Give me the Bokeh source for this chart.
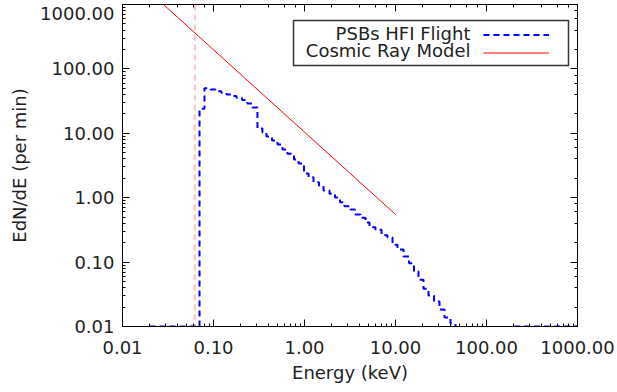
from bokeh.plotting import figure
from bokeh.models import (LogAxis, LogTicker, PrintfTickFormatter, Span, Label,
                          BoxAnnotation, Legend, LegendItem)
from bokeh.core.properties import value
from bokeh.embed import file_html
from bokeh.resources import INLINE

# ---- data ----
bin_edges_kev = [0.0198, 0.0702, 0.0796, 0.0927, 0.105, 0.122, 0.139, 0.158, 0.179,
                 0.206, 0.236, 0.268, 0.304, 0.345, 0.382, 0.439, 0.505, 0.573, 0.650,
                 0.767, 0.859, 0.987, 1.107, 1.256, 1.443, 1.618, 1.883, 2.164, 2.455,
                 2.752, 3.203, 3.588, 4.125, 4.682, 5.18, 6.03, 7.02, 8.17, 9.27,
                 10.52, 12.24, 14.08, 15.97, 17.89, 20.31, 23.05, 26.49, 30.45, 34.55,
                 40.22, 45.63, 193.1, 1000.0]
flight_rate = [0.01, 24.0, 50.1, 47.9, 45.1, 42.6, 40.0, 37.9, 35.6, 32.9, 29.0, 25.2,
               11.9, 10.3, 8.92, 7.73, 6.70, 5.60, 4.80, 3.92, 3.40, 2.38, 2.08, 1.74,
               1.55, 1.29, 1.15, 1.01, 0.851, 0.738, 0.656, 0.548, 0.487, 0.412, 0.348,
               0.317, 0.262, 0.241, 0.186, 0.157, 0.122, 0.0961, 0.0722, 0.0531, 0.0385,
               0.0303, 0.0244, 0.0184, 0.0138, 0.0111, 0.001, 0.01]
model_energy_kev = [0.02, 10.0]
model_rate = [1550.0, 0.55]
threshold_kev = 0.0624
legend_labels = ["PSBs HFI Flight", "Cosmic Ray Model"]
x_title = "Energy (keV)"
y_title = "EdN/dE (per min)"
top_tick_label = "1000.00"

FONT = "DejaVu Sans"
TXT = "#222222"
W, H = 617, 392
ML, MR, MT, MB = 122, 40, 4, 66
FH = H - MT - MB  # frame height in px

p = figure(width=W, height=H, x_axis_type="log", y_axis_type="log",
           x_range=(0.01, 1000), y_range=(0.01, 1000),
           output_backend="svg", toolbar_location=None,
           min_border_left=ML, min_border_right=MR, min_border_top=MT,
           min_border_bottom=MB)
p.xgrid.visible = False
p.ygrid.visible = False
p.outline_line_color = None
p.background_fill_color = "white"
p.border_fill_color = "white"


def style_axis(ax):
    ax.major_tick_in = 7
    ax.major_tick_out = 0
    ax.minor_tick_in = 3
    ax.minor_tick_out = 0
    ax.axis_line_color = "black"
    ax.axis_line_width = 1
    ax.major_tick_line_color = "black"
    ax.minor_tick_line_color = "black"
    ax.major_label_text_font = FONT
    ax.major_label_text_font_size = "18px"
    ax.major_label_text_color = TXT
    ax.axis_label_text_font = FONT
    ax.axis_label_text_font_size = "18px"
    ax.axis_label_text_font_style = "normal"
    ax.axis_label_text_color = TXT


for ax in (p.xaxis[0], p.yaxis[0]):
    style_axis(ax)
    ax.formatter = PrintfTickFormatter(format="%.2f")

p.xaxis[0].axis_label = x_title
p.xaxis[0].major_label_standoff = 14
p.xaxis[0].axis_label_standoff = 5
p.yaxis[0].axis_label = y_title
p.yaxis[0].major_label_standoff = 8
p.yaxis[0].axis_label_standoff = 7
# the top label sits a little below its tick (as in the reference) so it is not cut
p.yaxis[0].major_label_overrides = {1000: "\n" + top_tick_label}
p.yaxis[0].major_label_text_line_height = 0.1

for side in ("above", "right"):
    ax = LogAxis(ticker=LogTicker(), formatter=PrintfTickFormatter(format=""))
    style_axis(ax)
    ax.major_label_text_font_size = "0px"
    ax.major_label_standoff = 0
    p.add_layout(ax, side)

# threshold marker
p.add_layout(Span(location=threshold_kev, dimension="height", line_color="#FFC0CB",
                  line_width=2, line_dash="6 4", level="underlay"))

r_blue = p.step(x=bin_edges_kev, y=flight_rate + [flight_rate[-1]], mode="after",
                line_color="blue", line_width=2, line_dash="6 4")
r_red = p.line(model_energy_kev, model_rate, line_color="red", line_width=1)

# legend: frame box, right-aligned labels, samples to the right
p.add_layout(BoxAnnotation(left=171, right=446, top=FH - 16, bottom=FH - 61,
                           left_units="screen", right_units="screen",
                           top_units="screen", bottom_units="screen",
                           fill_alpha=0, line_color="#333333", line_alpha=1,
                           line_width=1.5, level="overlay"))
for lbl, ypos in zip(legend_labels, [FH - 29, FH - 46]):
    p.add_layout(Label(x=348, y=ypos, x_units="screen", y_units="screen", text=lbl,
                       text_align="right", text_baseline="middle", text_font=FONT,
                       text_font_size="18px", text_color=TXT))

legend = Legend(items=[LegendItem(label=value(" "), renderers=[r_blue]),
                       LegendItem(label=value(" "), renderers=[r_red])],
                location=(361, FH - 57), orientation="vertical", glyph_width=66,
                glyph_height=17, spacing=1, padding=0, margin=0, label_width=0,
                label_height=17, label_standoff=0, label_text_font_size="8px",
                border_line_color=None, background_fill_alpha=0)
p.add_layout(legend)

open("out.html", "w").write(file_html(p, INLINE))
